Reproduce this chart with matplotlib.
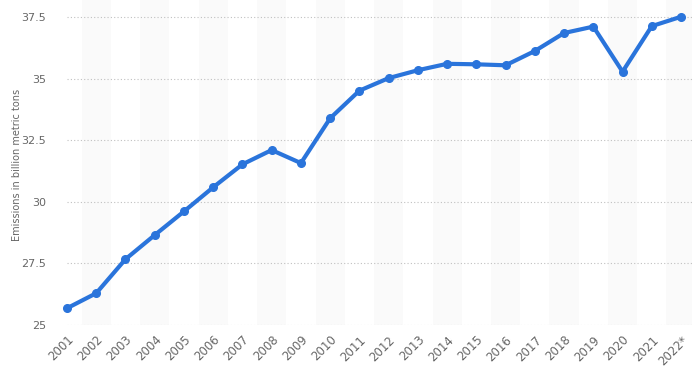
import matplotlib
matplotlib.use("Agg")
import matplotlib.pyplot as plt

years = ["2001", "2002", "2003", "2004", "2005", "2006", "2007", "2008", "2009", "2010", "2011",
         "2012", "2013", "2014", "2015", "2016", "2017", "2018", "2019", "2020", "2021", "2022*"]
emissions = [25.68, 26.29, 27.67, 28.65, 29.61, 30.59, 31.52, 32.10, 31.57, 33.39, 34.51,
             35.02, 35.34, 35.60, 35.58, 35.54, 36.12, 36.85, 37.11, 35.28, 37.13, 37.51]
yticks = [25, 27.5, 30, 32.5, 35, 37.5]
ytick_labels = ["25", "27.5", "30", "32.5", "35", "37.5"]

W, H = 692, 377
fig = plt.figure(figsize=(W / 100, H / 100), dpi=100)
ax = fig.add_axes([67 / W, 52 / H, 625 / W, 325 / H])

x = list(range(len(years)))
for i in x:
    if i % 2 == 1:
        ax.axvspan(i - 0.5, i + 0.5, color="#fafafa", lw=0, zorder=0)

ax.set_ylim(25, 25 + 325 / 24.64)
ax.set_xlim(0, 625 / 29.24)
ax.set_yticks(yticks)
ax.set_yticklabels(ytick_labels)
ax.grid(axis="y", color="#c0c0c0", linestyle=(0, (1, 2)), linewidth=0.8, zorder=1)
ax.set_axisbelow(True)

ax.plot(x, emissions, color="#2a74db", lw=3, marker="o", ms=5.5, zorder=3, clip_on=False,
        solid_joinstyle="round")

ax.set_xticks(x)
ax.set_xticklabels(years, rotation=45, ha="right", rotation_mode="anchor")
for s in ax.spines.values():
    s.set_visible(False)
ax.tick_params(axis="both", length=0, labelsize=8, labelcolor="#666666")
ax.tick_params(axis="y", pad=15)
ax.tick_params(axis="x", pad=6)
for lab in ax.get_xticklabels():
    lab.set_fontsize(8.5)

fig.text(17 / W, 1 - 165 / H, "Emissions in billion metric tons", rotation=90,
         ha="center", va="center", fontsize=7, color="#666666")

fig.savefig("out.png", dpi=100, facecolor="white")
